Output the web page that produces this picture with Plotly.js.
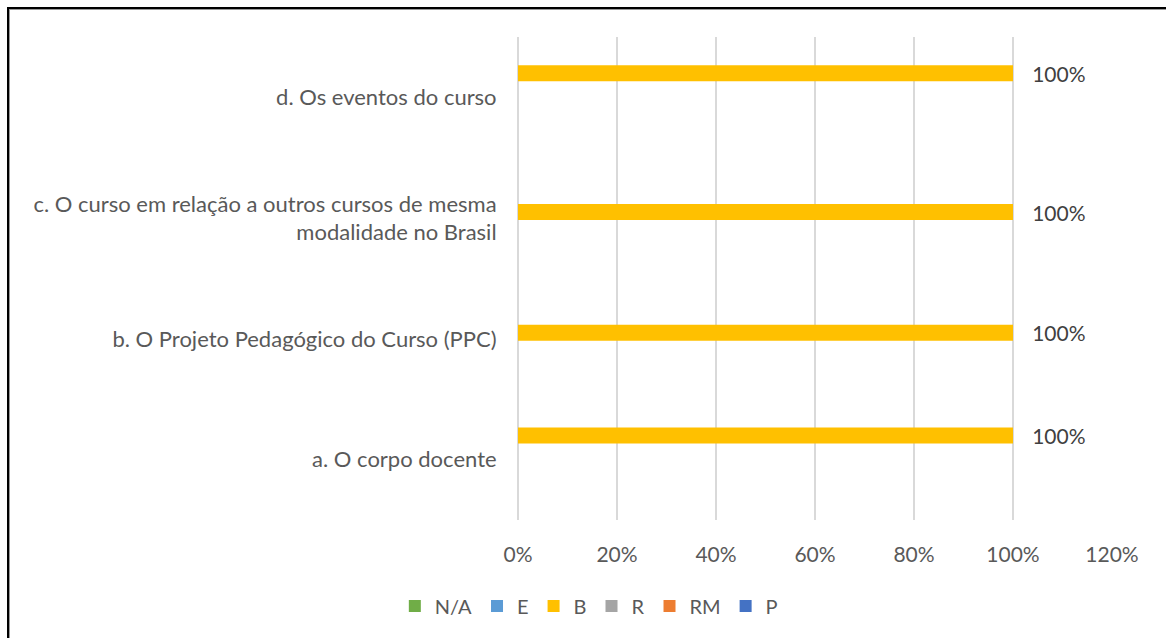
<!DOCTYPE html>
<html>
<head>
<meta charset="utf-8">
<script src="https://cdn.plot.ly/plotly-3.0.1.min.js"></script>
<style>
html,body{margin:0;padding:0;background:#fff;}
#chart{width:1166px;height:638px;}
#frame{position:absolute;left:7px;top:7px;width:3000px;height:3000px;border-top:2px solid #000;border-left:2px solid #000;pointer-events:none;box-shadow:inset 1px 1px 0 #999;}
</style>
</head>
<body>
<div id="chart"></div>
<div id="frame"></div>
<script>
const categories = [
  'a. O corpo docente',
  'b. O Projeto Pedagógico do Curso (PPC)',
  'c. O curso em relação a outros cursos de mesma<br>modalidade no Brasil',
  'd. Os eventos do curso'
];
const seriesNames = ['N/A', 'E', 'B', 'R', 'RM', 'P'];
const valuesNA = [null, null, null, null];
const valuesE  = [null, null, null, null];
const valuesB  = [1.00, 1.00, 1.00, 1.00];
const valuesR  = [null, null, null, null];
const valuesRM = [null, null, null, null];
const valuesP  = [null, null, null, null];
const xTickVals = [0, 0.2, 0.4, 0.6, 0.8, 1.0, 1.2];
const xTickText = ['0%', '20%', '40%', '60%', '80%', '100%', '120%'];

const colors = {'N/A':'#70AD47','E':'#5B9BD5','B':'#FFC000','R':'#A5A5A5','RM':'#ED7D31','P':'#4472C4'};
const vals = {'N/A':valuesNA,'E':valuesE,'B':valuesB,'R':valuesR,'RM':valuesRM,'P':valuesP};
const FONT = 'Lato, Calibri, Carlito, sans-serif';

// bar thickness (fraction of category band) and its placement within each band,
// as in the reference picture
const BAR_W = 0.1325;
const bandShift = [0.20, 0.05, 0.05, 0.20];

const traces = seriesNames.map(name => ({
  type: 'bar',
  orientation: 'h',
  name: name,
  x: vals[name],
  y: categories,
  marker: {color: colors[name]},
  width: BAR_W,
  offset: bandShift.map(s => s - BAR_W / 2),
  texttemplate: '\u00a0\u00a0\u00a0%{x:.0%}',
  textposition: 'outside',
  constraintext: 'none',
  cliponaxis: false,
  textfont: {family: FONT, size: 21, color: '#404040'},
  hoverinfo: 'x+y+name'
}));

const layout = {
  width: 1166, height: 638,
  paper_bgcolor: '#fff', plot_bgcolor: '#fff',
  margin: {l: 518, r: 54, t: 37, b: 118},
  barmode: 'overlay',
  font: {family: FONT, size: 22, color: '#595959'},
  xaxis: {
    range: [0, 1.2],
    tickvals: xTickVals, ticktext: xTickText,
    showgrid: true, gridcolor: '#D9D9D9', gridwidth: 1.5,
    zeroline: true, zerolinecolor: '#D9D9D9', zerolinewidth: 1.5,
    showline: false,
    ticks: 'outside', ticklen: 16, tickcolor: 'rgba(0,0,0,0)',
    tickfont: {family: FONT, size: 21, color: '#595959'},
    fixedrange: true
  },
  yaxis: {
    type: 'category',
    categoryorder: 'array', categoryarray: categories,
    showgrid: false, zeroline: false, showline: false,
    ticks: 'outside', ticklen: 16, tickcolor: 'rgba(0,0,0,0)',
    tickfont: {family: FONT, size: 22, color: '#595959'},
    automargin: false,
    fixedrange: true
  },
  showlegend: true,
  legend: {
    orientation: 'h',
    xref: 'container', x: 0.505, xanchor: 'center',
    yref: 'container', y: 0.05, yanchor: 'middle',
    font: {family: FONT, size: 20, color: '#595959'},
    itemwidth: 30,
    traceorder: 'normal'
  }
};

Plotly.newPlot('chart', traces, layout, {displayModeBar: false, staticPlot: true});
</script>
</body>
</html>
